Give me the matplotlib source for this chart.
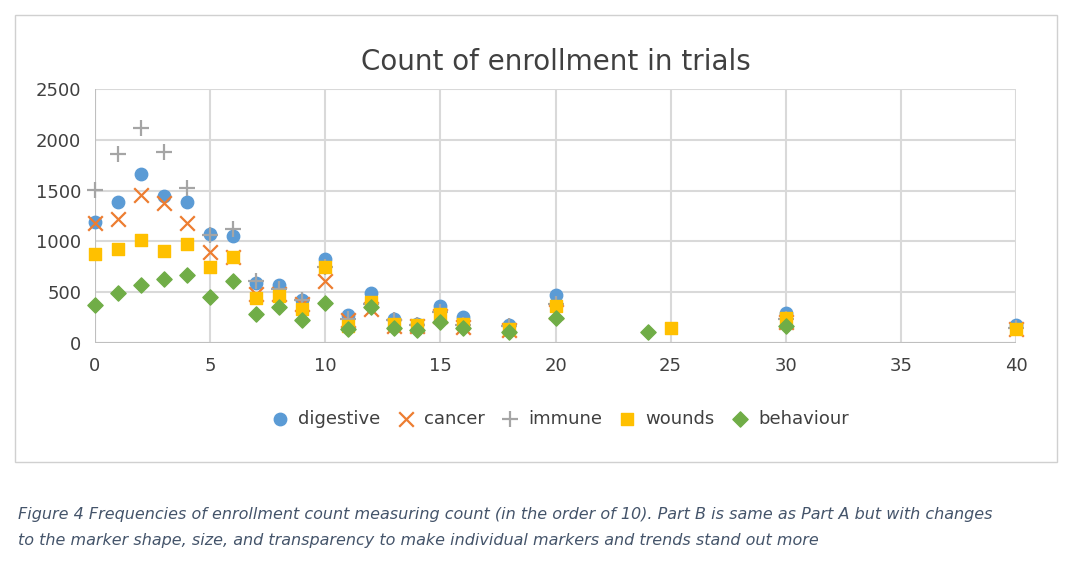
import matplotlib.pyplot as plt
from matplotlib.patches import Rectangle

# values
x_main = [0, 1, 2, 3, 4, 5, 6, 7, 8, 9, 10, 11, 12, 13, 14, 15, 16, 18, 20, 30, 40]
digestive = [1190, 1390, 1660, 1450, 1390, 1070, 1050, 590, 570, 420, 830, 280, 490, 240, 190, 360, 260, 180, 470, 300, 180]
cancer = [1180, 1220, 1460, 1380, 1180, 900, 850, 480, 480, 380, 610, 230, 330, 170, 170, 270, 160, 130, 310, 210, 140]
immune = [1510, 1860, 2120, 1880, 1530, 1060, 1120, 610, 530, 420, 750, 240, 380, 230, 180, 310, 180, 170, 380, 240, 150]
x_wounds = x_main[:19] + [25, 30, 40]
wounds = [880, 930, 1010, 910, 970, 750, 850, 440, 460, 330, 750, 170, 400, 190, 180, 290, 190, 140, 360, 150, 250, 140]
x_behaviour = x_main[:19] + [24, 30]
behaviour = [370, 490, 570, 630, 670, 450, 610, 290, 350, 230, 390, 140, 350, 150, 130, 210, 150, 110, 250, 110, 170]

fig = plt.figure(figsize=(10.78, 5.76), dpi=100)
fig.patches.append(Rectangle((15 / 1078, 1 - 462 / 576), 1042 / 1078, 447 / 576,
                             transform=fig.transFigure, fill=False, edgecolor='#d0d0d0', lw=1))
ax = fig.add_axes([95 / 1078, 1 - 343 / 576, 921 / 1078, 254 / 576])

kw = dict(zorder=3, clip_on=False)
ax.scatter(x_main, digestive, marker='o', s=80, color='#5b9bd5', label='digestive', **kw)
ax.scatter(x_main, cancer, marker='x', s=110, color='#ed7d31', linewidths=1.6, label='cancer', **kw)
ax.scatter(x_main, immune, marker='+', s=130, color='#a5a5a5', linewidths=1.6, label='immune', **kw)
ax.scatter(x_wounds, wounds, marker='s', s=80, color='#ffc000', label='wounds', **kw)
ax.scatter(x_behaviour, behaviour, marker='D', s=60, color='#70ad47', label='behaviour', **kw)

ax.set_xlim(0, 40)
ax.set_ylim(0, 2500)
ax.set_xticks(range(0, 41, 5))
ax.set_yticks(range(0, 2501, 500))
ax.grid(True, color='#d9d9d9', lw=1.5)
ax.set_axisbelow(True)
for s in ax.spines.values():
    s.set_visible(False)
ax.axhline(0, color='#bfbfbf', lw=1.5, zorder=1)
ax.axvline(0, color='#bfbfbf', lw=1.5, zorder=1)
ax.tick_params(length=0, labelsize=13, colors='#404040', pad=10)
ax.set_title('Count of enrollment in trials', fontsize=20, color='#404040', pad=14)

ax.legend(loc='upper center', bbox_to_anchor=(0.5, -0.2), ncol=5, frameon=False,
          fontsize=13, handletextpad=0.0, columnspacing=0.4, labelcolor='#404040')

fig.text(18 / 1078, 1 - 515 / 576, 'Figure 4 Frequencies of enrollment count measuring count (in the order of 10). '
         'Part B is same as Part A but with changes', fontsize=11.5, style='italic', color='#44546a', va='center')
fig.text(18 / 1078, 1 - 540 / 576, 'to the marker shape, size, and transparency to make individual markers and trends stand out more',
         fontsize=11.5, style='italic', color='#44546a', va='center')

fig.savefig('out.png', dpi=100)
